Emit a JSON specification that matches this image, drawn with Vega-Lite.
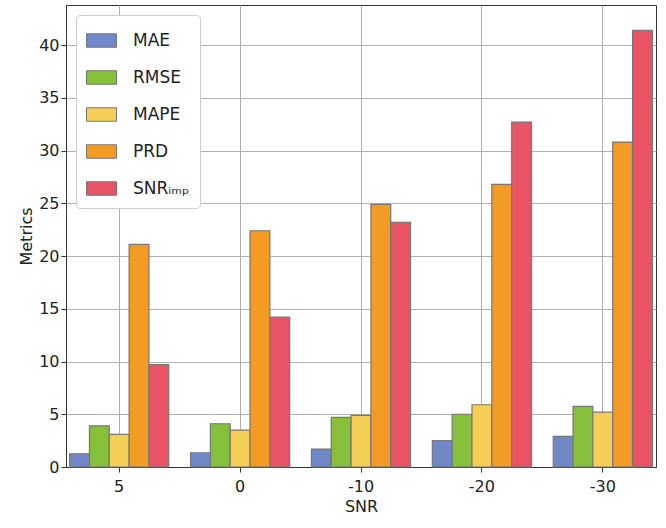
{
  "$schema": "https://vega.github.io/schema/vega-lite/v6.json",
  "autosize": {"type": "fit", "contains": "padding"},
  "width": 666,
  "height": 528,
  "padding": {"left": 18, "top": 5, "right": 10, "bottom": 14},
  "background": "white",
  "config": {
    "font": "DejaVu Sans",
    "view": {"stroke": "#333", "strokeWidth": 1},
    "axis": {"labelFontSize": 16, "titleFontSize": 16, "labelColor": "#222", "titleColor": "#222", "titleFontWeight": "normal", "gridColor": "#b0b0b0", "domainColor": "#333", "tickColor": "#333"}
  },
  "data": {
    "values": [
      {"snr": "5", "metric": "MAE", "v": 1.25},
      {"snr": "5", "metric": "RMSE", "v": 3.9},
      {"snr": "5", "metric": "MAPE", "v": 3.1},
      {"snr": "5", "metric": "PRD", "v": 21.1},
      {"snr": "5", "metric": "SNRᵢₘₚ", "v": 9.7},
      {"snr": "0", "metric": "MAE", "v": 1.35},
      {"snr": "0", "metric": "RMSE", "v": 4.1},
      {"snr": "0", "metric": "MAPE", "v": 3.5},
      {"snr": "0", "metric": "PRD", "v": 22.4},
      {"snr": "0", "metric": "SNRᵢₘₚ", "v": 14.2},
      {"snr": "-10", "metric": "MAE", "v": 1.7},
      {"snr": "-10", "metric": "RMSE", "v": 4.7},
      {"snr": "-10", "metric": "MAPE", "v": 4.9},
      {"snr": "-10", "metric": "PRD", "v": 24.9},
      {"snr": "-10", "metric": "SNRᵢₘₚ", "v": 23.2},
      {"snr": "-20", "metric": "MAE", "v": 2.5},
      {"snr": "-20", "metric": "RMSE", "v": 5.0},
      {"snr": "-20", "metric": "MAPE", "v": 5.9},
      {"snr": "-20", "metric": "PRD", "v": 26.8},
      {"snr": "-20", "metric": "SNRᵢₘₚ", "v": 32.7},
      {"snr": "-30", "metric": "MAE", "v": 2.9},
      {"snr": "-30", "metric": "RMSE", "v": 5.75},
      {"snr": "-30", "metric": "MAPE", "v": 5.2},
      {"snr": "-30", "metric": "PRD", "v": 30.8},
      {"snr": "-30", "metric": "SNRᵢₘₚ", "v": 41.4}
    ]
  },
  "mark": {"type": "bar", "stroke": "#777", "strokeWidth": 1.2},
  "encoding": {
    "x": {
      "field": "snr", "type": "nominal", "sort": ["5", "0", "-10", "-20", "-30"],
      "scale": {"paddingInner": 0.18, "paddingOuter": 0.03},
      "axis": {"title": "SNR", "labelAngle": 0, "grid": true, "bandPosition": 0.5, "labelPadding": 6}
    },
    "xOffset": {"field": "metric", "type": "nominal", "sort": ["MAE", "RMSE", "MAPE", "PRD", "SNRᵢₘₚ"]},
    "y": {
      "field": "v", "type": "quantitative",
      "scale": {"domain": [0, 43.8], "nice": false},
      "axis": {"title": "Metrics", "values": [0, 5, 10, 15, 20, 25, 30, 35, 40], "grid": true}
    },
    "color": {
      "field": "metric", "type": "nominal", "sort": ["MAE", "RMSE", "MAPE", "PRD", "SNRᵢₘₚ"],
      "scale": {"domain": ["MAE", "RMSE", "MAPE", "PRD", "SNRᵢₘₚ"], "range": ["#7088c8", "#86c03a", "#f5cf55", "#f39b25", "#e85466"]},
      "legend": {
        "title": null, "orient": "top-left", "offset": 10,
        "fillColor": "white", "strokeColor": "#ccc", "padding": 10, "cornerRadius": 4,
        "symbolType": "M-1,-0.45H1V0.45H-1Z", "symbolSize": 900, "symbolStrokeColor": "#777", "symbolStrokeWidth": 1,
        "labelFontSize": 17, "labelColor": "#222", "rowPadding": 12, "labelOffset": 16
      }
    }
  }
}
